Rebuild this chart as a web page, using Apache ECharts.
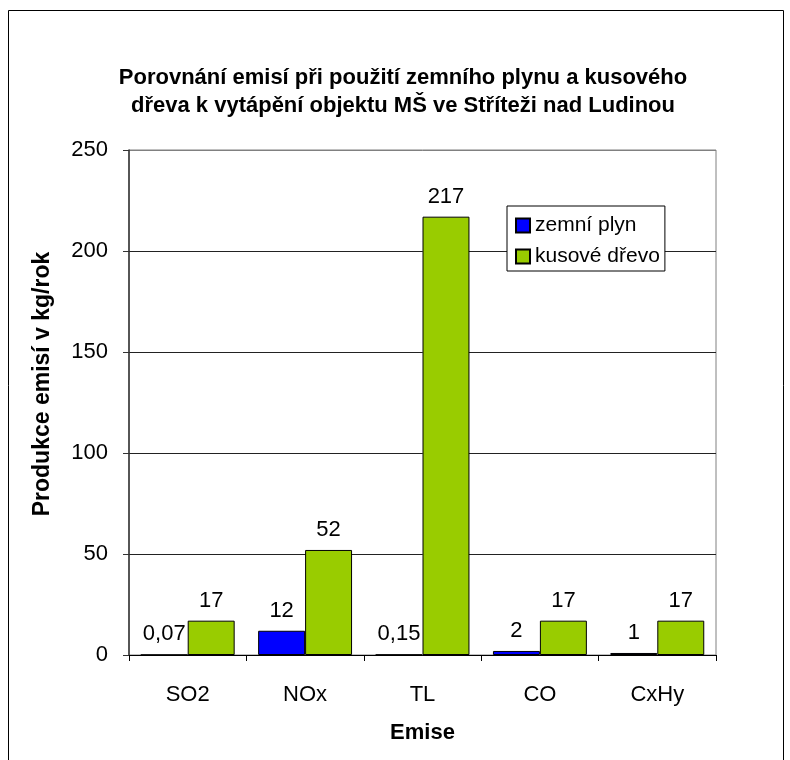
<!DOCTYPE html>
<html>
<head>
<meta charset="utf-8">
<script src="https://cdn.jsdelivr.net/npm/echarts@6/dist/echarts.min.js"></script>
<style>
html,body{margin:0;padding:0;background:#fff;}
#chart{width:790px;height:760px;}
</style>
</head>
<body>
<div id="chart"></div>
<script>
const categories = ['SO2', 'NOx', 'TL', 'CO', 'CxHy'];
const zemniPlyn = [0.07, 12, 0.15, 2, 1];
const kusoveDrevo = [17, 52, 217, 17, 17];
const seriesNames = ['zemní plyn', 'kusové dřevo'];
const yTicks = [0, 50, 100, 150, 200, 250];

const FONT = '"Liberation Sans", Arial, sans-serif';
const chart = echarts.init(document.getElementById('chart'), null, {renderer: 'canvas'});

const labelCfg = {
  show: true,
  position: 'top',
  distance: 9,
  color: '#000',
  fontSize: 22,
  fontFamily: FONT,
  formatter: p => String(p.value).replace('.', ',')
};

chart.setOption({
  backgroundColor: '#fff',
  animation: false,
  title: {
    text: 'Porovnání emisí při použití zemního plynu a kusového\ndřeva k vytápění objektu MŠ ve Stříteži nad Ludinou',
    left: 398,
    top: 59,
    textAlign: 'center',
    textStyle: {fontFamily: FONT, fontSize: 22, fontWeight: 'bold', color: '#000', lineHeight: 28}
  },
  legend: {
    orient: 'vertical',
    left: 507,
    top: 206,
    backgroundColor: '#fff',
    borderColor: '#000',
    borderWidth: 1,
    borderRadius: 0,
    padding: [9, 5, 4, 8],
    itemGap: 10,
    itemWidth: 14,
    itemHeight: 14,
    icon: 'rect',
    textStyle: {fontFamily: FONT, fontSize: 21, color: '#000'},
    data: seriesNames
  },
  grid: {
    left: 129, top: 150, width: 587, height: 505,
    show: true, borderColor: '#808080', borderWidth: 1, backgroundColor: 'transparent'
  },
  xAxis: {
    type: 'category',
    data: categories,
    name: 'Emise',
    nameLocation: 'middle',
    nameGap: 67,
    nameTextStyle: {fontFamily: FONT, fontSize: 22, fontWeight: 'bold', color: '#000'},
    axisLine: {lineStyle: {color: '#000', width: 1}},
    axisTick: {show: true, length: 6, lineStyle: {color: '#000'}},
    axisLabel: {fontFamily: FONT, fontSize: 22, color: '#000', margin: 29}
  },
  yAxis: {
    type: 'value',
    min: 0, max: 250, interval: 50,
    axisLine: {show: true, lineStyle: {color: '#333', width: 1.5}},
    axisTick: {show: true, length: 6, lineStyle: {color: '#333'}},
    axisLabel: {fontFamily: FONT, fontSize: 22, color: '#000', margin: 21,
      formatter: v => yTicks.includes(v) ? String(v) : ''},
    splitLine: {show: true, lineStyle: {color: ['#222', '#222', '#222', '#222', '#222', '#808080'], width: 1}}
  },
  graphic: [
    {type: 'rect', shape: {x: 8.5, y: 10.5, width: 775, height: 760}, style: {fill: 'none', stroke: '#000', lineWidth: 1}, z: -1},
    {type: 'text', x: 43, y: 384, rotation: Math.PI / 2,
      style: {text: 'Produkce emisí v kg/rok', fontFamily: FONT, fontSize: 23, fontWeight: 'bold', fill: '#000', align: 'center', verticalAlign: 'middle'}}
  ],
  series: [
    {
      name: seriesNames[0], type: 'bar', data: zemniPlyn,
      barGap: '0%', barCategoryGap: '20%',
      itemStyle: {color: '#0000FF', borderColor: '#000', borderWidth: 1},
      label: labelCfg
    },
    {
      name: seriesNames[1], type: 'bar', data: kusoveDrevo,
      barGap: '0%', barCategoryGap: '20%',
      itemStyle: {color: '#99CC00', borderColor: '#000', borderWidth: 1},
      label: labelCfg
    }
  ]
});
</script>
</body>
</html>
